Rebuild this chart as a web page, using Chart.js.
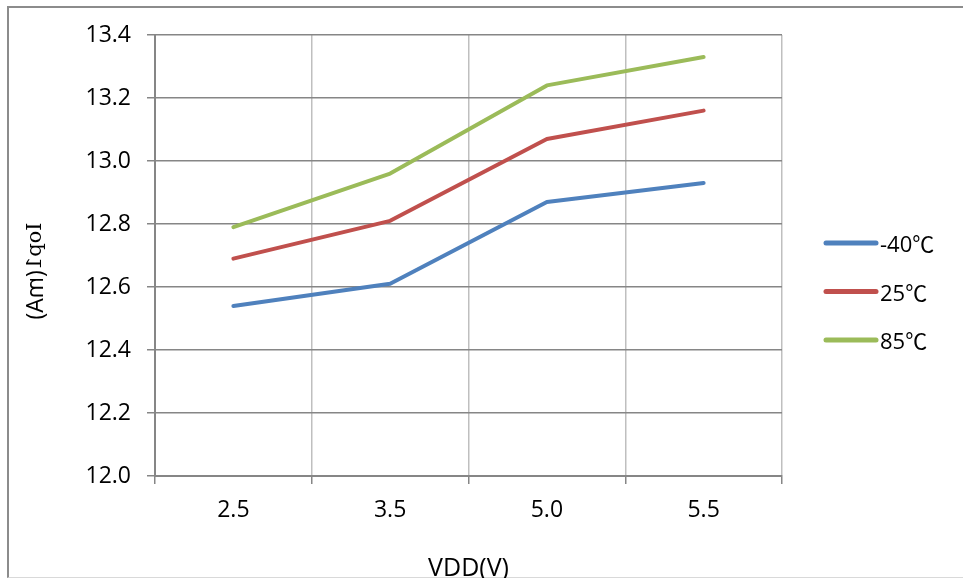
<!DOCTYPE html>
<html lang="zh">
<head>
    <meta charset="UTF-8">
    <title>Iop1 vs VDD</title>
    <script src="https://cdn.jsdelivr.net/npm/chart.js"></script>
    <style>
        body {
            margin: 0;
            padding: 0;
            background: white;
            overflow: hidden;
        }
        .wrap {
            position: relative;
            width: 963px;
            height: 578px;
        }
        .frame {
            position: absolute;
            left: 7px;
            top: 6px;
            width: 1000px;
            height: 569px;
            border-left: 2px solid #8c8c8c;
            border-top: 2px solid #8c8c8c;
            border-bottom: 1px solid #d9d9d9;
        }
        canvas {
            position: absolute;
            left: 0;
            top: 0;
        }
    </style>
</head>
<body>
    <div class="wrap">
        <div class="frame"></div>
        <canvas id="myChart" width="963" height="578"></canvas>
    </div>

    <script>
        // data
        const categories = ['2.5', '3.5', '5.0', '5.5'];
        const seriesNames = ['-40℃', '25℃', '85℃'];
        const seriesColors = ['#4f81bd', '#c0504d', '#9bbb59'];
        const minus40 = [12.54, 12.61, 12.87, 12.93];
        const plus25 = [12.69, 12.81, 13.07, 13.16];
        const plus85 = [12.79, 12.96, 13.24, 13.33];
        const yMin = 12.0;
        const yMax = 13.4;
        const yStep = 0.2;

        const font = '"Open Sans", "DejaVu Sans", sans-serif';
        const axisGray = '#868686';

        // legend drawn at the right, line + label
        const sideLegend = {
            id: 'sideLegend',
            afterDraw(chart) {
                const ctx = chart.ctx;
                ctx.save();
                chart.data.datasets.forEach((ds, i) => {
                    const y = 243 + i * 48.5;
                    ctx.strokeStyle = ds.borderColor;
                    ctx.lineWidth = 5;
                    ctx.lineCap = 'round';
                    ctx.beginPath();
                    ctx.moveTo(826, y);
                    ctx.lineTo(876, y);
                    ctx.stroke();
                    ctx.fillStyle = '#000';
                    ctx.font = '22px "Open Sans", "Noto Sans CJK SC", sans-serif';
                    ctx.textBaseline = 'middle';
                    ctx.textAlign = 'left';
                    ctx.fillText(ds.label, 880, y + 3);
                });
                ctx.restore();
            }
        };

        // y title: serif "Iop1" + "(mA)", written top-down like the original
        const yTitle = {
            id: 'yTitle',
            afterDraw(chart) {
                const ctx = chart.ctx;
                const parts = [
                    { t: 'Iop1', f: '21px "DejaVu Serif", serif' },
                    { t: '(mA)', f: '23px ' + font }
                ];
                let total = 0;
                parts.forEach(p => { ctx.font = p.f; p.w = ctx.measureText(p.t).width; total += p.w; });
                ctx.save();
                ctx.translate(36, 271);
                ctx.transform(0, 1, 1, 0, 0, 0);
                ctx.fillStyle = '#000';
                ctx.textBaseline = 'middle';
                ctx.textAlign = 'left';
                let x = -total / 2;
                parts.forEach(p => {
                    ctx.font = p.f;
                    ctx.fillText(p.t, x, 0);
                    x += p.w;
                });
                ctx.restore();
            }
        };

        const ctx = document.getElementById('myChart').getContext('2d');
        let myChart = new Chart(ctx, {
            type: 'line',
            data: {
                labels: categories,
                datasets: [minus40, plus25, plus85].map((vals, i) => ({
                    label: seriesNames[i],
                    data: vals,
                    borderColor: seriesColors[i],
                    backgroundColor: seriesColors[i],
                    borderWidth: 4,
                    pointRadius: 0,
                    tension: 0,
                    borderCapStyle: 'round',
                    borderJoinStyle: 'round'
                }))
            },
            options: {
                responsive: false,
                animation: false,
                layout: {
                    padding: { left: 0, top: 35, right: 181, bottom: 0 }
                },
                plugins: {
                    legend: { display: false },
                    tooltip: { enabled: false }
                },
                scales: {
                    x: {
                        offset: true,
                        grid: {
                            offset: true,
                            color: '#bfbfbf',
                            lineWidth: 1.5,
                            drawTicks: true,
                            tickLength: 8,
                            tickColor: axisGray
                        },
                        border: { color: axisGray, width: 2 },
                        ticks: {
                            color: '#000',
                            font: { family: font, size: 23 },
                            padding: 13,
                            maxRotation: 0
                        },
                        title: {
                            display: true,
                            text: 'VDD(V)',
                            color: '#000',
                            font: { family: font, size: 25 },
                            padding: { top: 10, bottom: -6 }
                        },
                        afterFit(scale) { scale.height = 102; }
                    },
                    y: {
                        min: yMin,
                        max: yMax,
                        grid: {
                            color: axisGray,
                            lineWidth: 1.5,
                            tickLength: 8,
                            tickColor: axisGray
                        },
                        border: { color: axisGray, width: 2 },
                        ticks: {
                            stepSize: yStep,
                            color: '#000',
                            font: { family: font, size: 23 },
                            padding: 16,
                            callback: v => v.toFixed(1)
                        },
                        afterFit(scale) { scale.width = 155; }
                    }
                }
            },
            plugins: [sideLegend, yTitle]
        });
    </script>
</body>
</html>
